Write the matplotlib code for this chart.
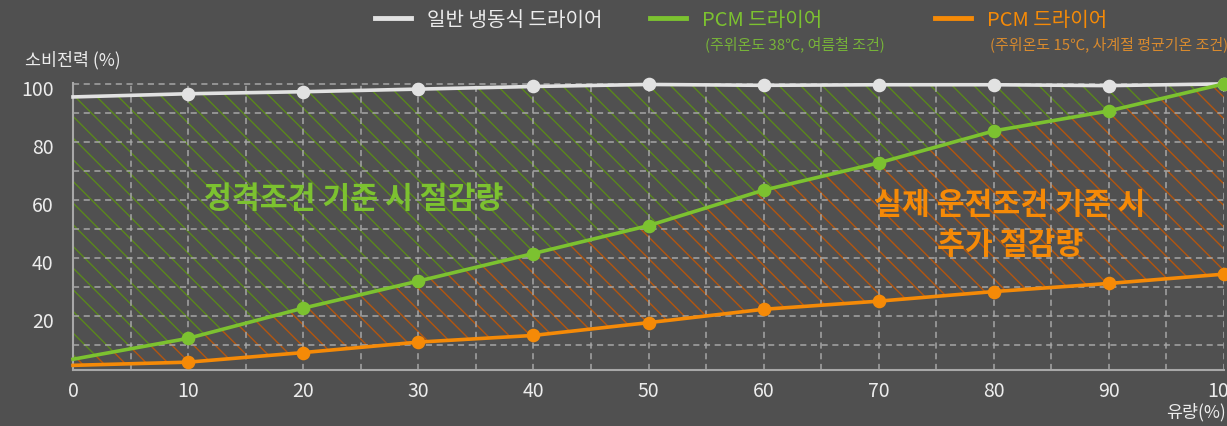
import matplotlib
matplotlib.use("Agg")
import matplotlib.pyplot as plt
from matplotlib.lines import Line2D
from matplotlib.transforms import ScaledTranslation

DPI = 130
S = 100 / DPI  # keep sizes as if at 100 dpi while hatch grows with dpi

plt.rcParams['font.family'] = ['Noto Sans CJK KR', 'DejaVu Sans']
plt.rcParams['hatch.linewidth'] = 1.0 * S

# ---- data ----
flow = [0, 10, 20, 30, 40, 50, 60, 70, 80, 90, 100]
conventional = [95.5, 96.6, 97.3, 98.2, 99.1, 99.8, 99.5, 99.7, 99.7, 99.4, 100.0]
pcm_summer = [5.2, 12.4, 22.8, 32.1, 41.6, 51.2, 63.4, 72.8, 83.8, 90.7, 100.0]
pcm_annual = [3.1, 4.2, 7.5, 11.1, 13.4, 17.8, 22.4, 25.2, 28.5, 31.3, 34.5]

y_ticks = [20, 40, 60, 80, 100]
x_ticks = [0, 10, 20, 30, 40, 50, 60, 70, 80, 90, 100]

label_conv = "일반 냉동식 드라이어"
label_pcm = "PCM 드라이어"
sub_summer = "(주위온도 38℃, 여름철 조건)"
sub_annual = "(주위온도 15℃, 사계절 평균기온 조건)"
ylabel = "소비전력 (%)"
xlabel = "유량(%)"
note_rated = "정격조건 기준 시 절감량"
note_real = "실제 운전조건 기준 시\n추가 절감량"

# ---- style ----
BG = "#505050"
WHITE = "#e2e2e2"
GREEN = "#7cc230"
ORANGE = "#f58a07"
GREEN_HATCH = "#5a881c"
ORANGE_HATCH = "#b4560f"
GRID = "#a6a6a6"
TXT = "#ececec"

W, H = 1227, 426
fig = plt.figure(figsize=(W / DPI, H / DPI), dpi=DPI, facecolor=BG)
ax = fig.add_axes([73 / W, 1 - 370 / H, (1224 - 73) / W, (370 - 83) / H])
ax.set_facecolor(BG)

ax.fill_between(flow, pcm_summer, conventional, facecolor="none",
                edgecolor=GREEN_HATCH, hatch="\\\\", linewidth=0, zorder=1)
ax.fill_between(flow, pcm_annual, pcm_summer, facecolor="none",
                edgecolor=ORANGE_HATCH, hatch="\\\\", linewidth=0, zorder=1)

mk = slice(1, None)
for series, col in [(conventional, WHITE), (pcm_summer, GREEN), (pcm_annual, ORANGE)]:
    ax.plot(flow, series, color=col, lw=2.6 * S, marker="o", ms=8.5 * S,
            markevery=mk, zorder=4, clip_on=False)

ax.set_xlim(0, 100)
ax.set_ylim(1.5, 100.3)
ax.set_xticks(x_ticks)
ax.set_xticks(range(0, 101, 5), minor=True)
ax.set_yticks(y_ticks)
ax.set_yticks(range(10, 101, 10), minor=True)
ax.tick_params(which="both", length=0, colors=TXT, labelsize=14 * S)
ax.tick_params(axis="x", pad=8 * S)
ax.tick_params(axis="y", pad=14 * S)
off = ScaledTranslation(0, -4 / DPI, fig.dpi_scale_trans)
for lab in ax.get_yticklabels():
    lab.set_transform(lab.get_transform() + off)
ax.grid(True, which="both", color=GRID, lw=1.1 * S,
        linestyle=(0, (4, 3)), zorder=0)

for s in ["top", "right"]:
    ax.spines[s].set_visible(False)
for s in ["left", "bottom"]:
    ax.spines[s].set_color("#a8a8a8")
    ax.spines[s].set_linewidth(1.5 * S)

fig.text(25 / W, 1 - 60 / H, ylabel, color=TXT, fontsize=12.5 * S,
         ha="left", va="center")
fig.text(1 - 1 / W, 1 - 412 / H, xlabel, color=TXT, fontsize=12.5 * S,
         ha="right", va="center")

ax.text(24.4, 60.3, note_rated, color=GREEN, fontsize=21.8 * S, fontweight="bold",
        ha="center", va="center", zorder=5)
ax.text(81.4, 51.4, note_real, color=ORANGE, fontsize=21.8 * S, fontweight="bold",
        ha="center", va="center", linespacing=1.35, zorder=5)

# ---- legend ----
entries = [
    (375, WHITE, TXT, label_conv, None, None),
    (650, GREEN, GREEN, label_pcm, sub_summer, "#77b339"),
    (935, ORANGE, ORANGE, label_pcm, sub_annual, "#d88a2e"),
]
for x0, col, tcol, lab, sub, subcol in entries:
    leg = fig.legend([Line2D([], [], color=col, lw=3.5 * S)], [lab],
                     loc="center left", bbox_to_anchor=(x0 / W, 1 - 20 / H),
                     frameon=False, fontsize=14.5 * S, borderpad=0, borderaxespad=0,
                     handlelength=1.78, handletextpad=0.8)
    leg.get_texts()[0].set_color(tcol)
    if sub:
        fig.text((x0 + 55) / W, 1 - 44 / H, sub, color=subcol,
                 fontsize=10.8 * S, ha="left", va="center")

fig.savefig("out.png", dpi=DPI, facecolor=BG)
